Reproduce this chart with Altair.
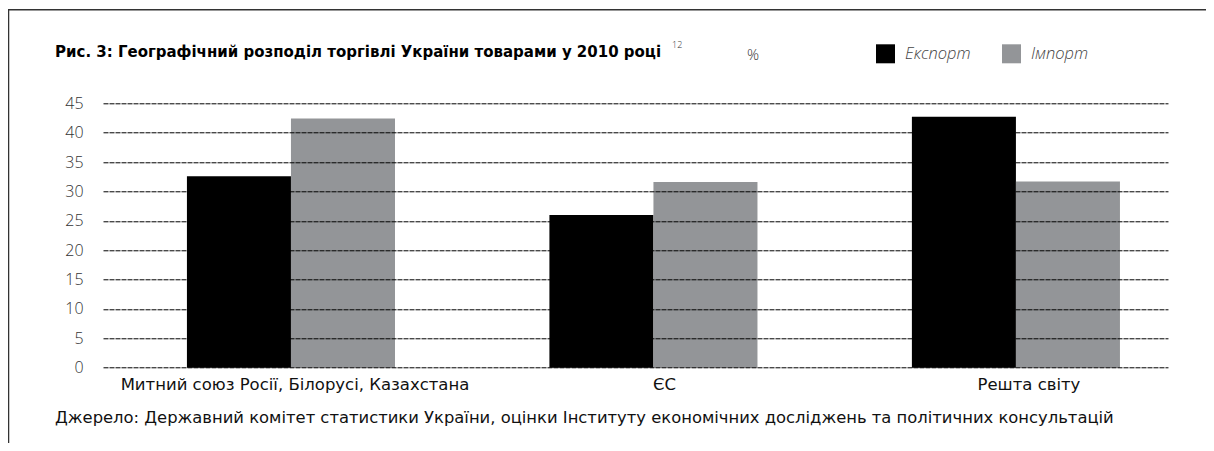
import altair as alt
import pandas as pd

categories = ["Митний союз Росії, Білорусі, Казахстана", "ЄС", "Решта світу"]
series = ["Експорт", "Імпорт"]
export_vals = [32.6, 26.0, 42.7]
import_vals = [42.4, 31.6, 31.7]
y_ticks = [0, 5, 10, 15, 20, 25, 30, 35, 40, 45]

title_text = "Рис. 3: Географічний розподіл торгівлі України товарами у 2010 році"
footnote_mark = "12"
unit_text = "%"
source_text = ("Джерело: Державний комітет статистики України, оцінки Інституту "
               "економічних досліджень та політичних консультацій")

rows = []
for c, e, i in zip(categories, export_vals, import_vals):
    rows.append({"cat": c, "series": series[0], "value": e})
    rows.append({"cat": c, "series": series[1], "value": i})
df = pd.DataFrame(rows)

FONT = "Open Sans"
TFONT = "DejaVu Sans"

label_off = ("datum.value === 'ЄС' ? 11 : (datum.value === 'Решта світу' ? 13 : 4)")

bars = alt.Chart(df).mark_bar().encode(
    x=alt.X("cat:N", sort=categories, title=None,
            scale=alt.Scale(paddingInner=0.426, paddingOuter=0.182, align=0.636),
            axis=alt.Axis(domain=False, ticks=False, grid=False, labelAngle=0,
                          labelFont=TFONT, labelFontSize=16.5, labelColor="#111",
                          labelLimit=0, labelPadding=9,
                          labelOffset=alt.ExprRef(label_off))),
    xOffset=alt.XOffset("series:N", sort=series,
                        scale=alt.Scale(paddingInner=0, paddingOuter=0)),
    y=alt.Y("value:Q", title=None,
            scale=alt.Scale(domain=[0, 45], nice=False),
            axis=alt.Axis(values=y_ticks, domain=False, ticks=False, grid=True,
                          gridColor="#000", gridDash=[5, 1], gridWidth=1,
                          labelFont=FONT, labelFontWeight=300, labelFontSize=16,
                          labelColor="#333", labelPadding=20, zindex=1)),
    color=alt.Color("series:N", sort=series,
                    scale=alt.Scale(domain=series, range=["#000000", "#939598"]),
                    legend=alt.Legend(title=None, orient="none", direction="horizontal",
                                      legendX=773, legendY=-59, symbolType="square",
                                      symbolSize=361, symbolStrokeWidth=0,
                                      symbolOpacity=1, labelFont=FONT,
                                      labelFontStyle="italic", labelFontWeight=300,
                                      labelFontSize=16.5, labelColor="#444",
                                      labelOffset=10, columnPadding=31)),
)

def text_layer(txt, x, y, size, weight="normal", color="#000", align="left", font=TFONT):
    return alt.Chart(pd.DataFrame({"t": [txt]})).mark_text(
        align=align, baseline="middle", font=font, fontSize=size,
        fontWeight=weight, color=color,
    ).encode(text="t:N", x=alt.value(x), y=alt.value(y))

title = text_layer(title_text, -48, -51, 15, "bold")
sup = text_layer(footnote_mark, 569, -58, 9, 300, "#333", font=FONT)
unit = text_layer(unit_text, 644, -48, 15, 300, "#333", font=FONT)
source = text_layer(source_text, -48, 315, 16.4, "normal", "#111")

frame_top = alt.Chart(pd.DataFrame({"a": [0]})).mark_rule(color="#333", strokeWidth=1.5).encode(
    x=alt.value(-95), x2=alt.value(1110), y=alt.value(-93.5))
frame_left = alt.Chart(pd.DataFrame({"a": [0]})).mark_rule(color="#333", strokeWidth=1.5).encode(
    x=alt.value(-94.5), y=alt.value(-94), y2=alt.value(340))

chart = alt.layer(bars, title, sup, unit, source, frame_top, frame_left).properties(
    width=1065, height=264.4,
    autosize=alt.AutoSizeParams(type="none"),
    padding={"left": 95, "top": 95.3, "right": 38, "bottom": 75},
).configure_view(stroke=None)

chart.save("out.html", embed_options={"renderer": "svg", "actions": False})
